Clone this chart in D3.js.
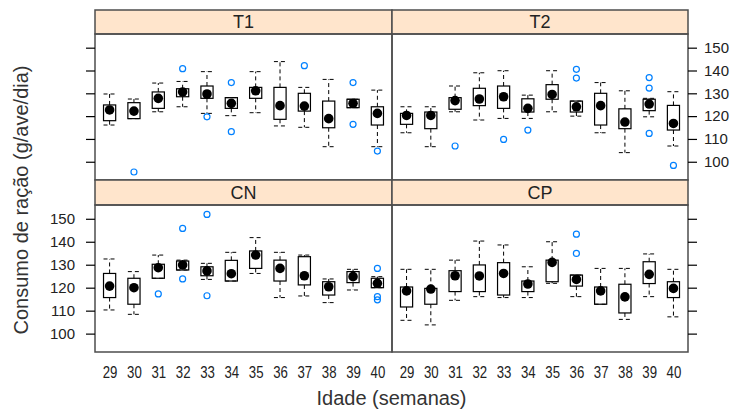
<!DOCTYPE html>
<html>
<head>
<meta charset="utf-8">
<script src="https://cdn.jsdelivr.net/npm/d3@7"></script>
<style>
  body { margin: 0; background: #fff; }
  svg { display: block; font-family: "Liberation Sans", Arial, sans-serif; }
</style>
</head>
<body>
<svg id="chart" width="732" height="416"></svg>
<script>
// Ages (weeks) on the x axis
const weeks = [29, 30, 31, 32, 33, 34, 35, 36, 37, 38, 39, 40];
const panelNames = ["T1", "T2", "CN", "CP"];
const yTicks = [100, 110, 120, 130, 140, 150];

// Box statistics per week: [lower whisker, Q1, median, Q3, upper whisker]
const statsT1 = [
  [116.1, 118.0, 122.7, 124.9, 129.7],
  [118.9, 118.9, 122.2, 125.9, 127.5],
  [121.9, 123.4, 127.8, 130.6, 134.5],
  [124.1, 128.5, 130.6, 132.0, 135.2],
  [121.2, 127.8, 129.7, 133.2, 139.5],
  [120.2, 123.4, 125.6, 128.1, 128.1],
  [121.5, 127.8, 131.1, 132.6, 139.5],
  [115.7, 118.6, 124.6, 132.6, 143.9],
  [115.1, 122.2, 124.4, 130.0, 132.6],
  [106.6, 114.9, 118.9, 126.6, 136.1],
  [123.7, 123.7, 125.6, 127.4, 127.4],
  [106.6, 116.1, 121.2, 124.1, 131.4]
];
const statsT2 = [
  [112.7, 116.4, 120.3, 121.2, 124.1],
  [106.6, 114.5, 120.3, 121.8, 124.1],
  [121.9, 123.0, 126.8, 128.1, 133.2],
  [118.3, 124.6, 127.5, 132.2, 139.0],
  [119.0, 123.4, 128.5, 133.2, 139.9],
  [119.0, 121.8, 123.4, 127.6, 129.2],
  [121.9, 127.4, 129.5, 133.8, 139.9],
  [120.0, 121.8, 124.1, 126.6, 126.6],
  [112.7, 116.1, 124.6, 130.0, 134.7],
  [104.0, 114.5, 117.4, 123.2, 131.1],
  [119.7, 122.4, 125.3, 127.4, 127.8],
  [106.9, 113.9, 116.8, 124.7, 130.7]
];
const statsCN = [
  [110.3, 115.7, 120.7, 126.2, 132.5],
  [108.4, 112.8, 120.0, 124.1, 127.0],
  [124.1, 124.1, 128.7, 130.2, 134.2],
  [127.7, 127.7, 129.9, 131.6, 132.0],
  [123.6, 125.2, 127.3, 129.1, 130.6],
  [122.9, 122.9, 126.1, 131.9, 135.4],
  [126.2, 128.4, 134.2, 136.0, 141.8],
  [115.7, 122.9, 128.4, 132.0, 135.4],
  [116.4, 121.2, 125.2, 133.5, 134.2],
  [113.5, 116.8, 120.4, 122.6, 123.8],
  [119.0, 122.2, 124.8, 127.0, 128.0],
  [120.0, 120.0, 121.9, 124.1, 124.8]
];
const statsCP = [
  [105.8, 111.6, 118.6, 120.3, 128.0],
  [103.8, 112.8, 119.4, 119.7, 128.0],
  [114.5, 118.3, 125.2, 127.4, 132.0],
  [116.1, 118.3, 125.1, 129.9, 140.3],
  [115.7, 116.8, 126.2, 130.9, 138.6],
  [115.7, 118.3, 121.6, 122.9, 129.1],
  [121.9, 122.6, 131.0, 132.0, 140.0],
  [116.1, 120.7, 123.6, 125.5, 125.5],
  [112.8, 112.8, 118.6, 120.3, 128.4],
  [106.2, 109.0, 116.0, 121.5, 128.4],
  [116.1, 121.8, 125.8, 131.3, 134.7],
  [107.3, 115.7, 119.7, 122.6, 128.0]
];

// Outlying observations: [week, value]
const outT1 = [[30, 95.5], [32, 140.8], [33, 119.7], [34, 134.7], [34, 113.2],
               [37, 142.1], [39, 134.7], [39, 116.4], [40, 104.7]];
const outT2 = [[31, 106.9], [33, 109.8], [34, 113.9], [36, 140.5], [36, 136.7],
               [39, 136.9], [39, 132.3], [39, 112.4], [40, 98.4]];
const outCN = [[31, 117.3], [32, 145.8], [32, 123.8], [33, 151.9], [33, 116.5],
               [40, 128.4], [40, 116.1], [40, 114.7]];
const outCP = [[36, 143.3], [36, 134.9]];

const statsByPanel = { T1: statsT1, T2: statsT2, CN: statsCN, CP: statsCP };
const outByPanel = { T1: outT1, T2: outT2, CN: outCN, CP: outCP };

// Layout of the 2 x 2 lattice
const colX = [95, 392, 688];
const rows = [
  { stripTop: 10, plotTop: 34, plotBottom: 180 },
  { stripTop: 180, plotTop: 205, plotBottom: 352 }
];
const yDomain = [92, 156];

const svg = d3.select("#chart");
const frameColor = "#4d4d4d";

panelNames.forEach((name, idx) => {
  const col = idx % 2;
  const row = idx < 2 ? 0 : 1;
  const x0 = colX[col], x1 = colX[col + 1];
  const r = rows[row];

  const x = d3.scalePoint().domain(weeks).range([x0, x1]).padding(0.6);
  const y = d3.scaleLinear().domain(yDomain).range([r.plotBottom, r.plotTop]);
  const boxW = x.step() * 0.5;

  // strip
  svg.append("rect")
    .attr("x", x0).attr("y", r.stripTop)
    .attr("width", x1 - x0).attr("height", r.plotTop - r.stripTop)
    .attr("fill", "#ffe5cc").attr("stroke", frameColor).attr("stroke-width", 1.5);
  svg.append("text")
    .attr("x", (x0 + x1) / 2).attr("y", r.stripTop + (r.plotTop - r.stripTop) / 2)
    .attr("dy", "0.36em").attr("text-anchor", "middle")
    .attr("font-size", 18).attr("fill", "#222")
    .text(name);

  const g = svg.append("g");
  const stats = statsByPanel[name];

  weeks.forEach((wk, i) => {
    const [lo, q1, med, q3, hi] = stats[i];
    const cx = x(wk);
    const dash = "4,3";
    // whiskers
    g.append("line").attr("x1", cx).attr("x2", cx)
      .attr("y1", y(q3)).attr("y2", y(hi))
      .attr("stroke", "#000").attr("stroke-dasharray", dash);
    g.append("line").attr("x1", cx).attr("x2", cx)
      .attr("y1", y(q1)).attr("y2", y(lo))
      .attr("stroke", "#000").attr("stroke-dasharray", dash);
    // caps
    [lo, hi].forEach(v => {
      g.append("line")
        .attr("x1", cx - boxW / 2).attr("x2", cx + boxW / 2)
        .attr("y1", y(v)).attr("y2", y(v))
        .attr("stroke", "#000").attr("stroke-dasharray", dash);
    });
    // box
    g.append("rect")
      .attr("x", cx - boxW / 2).attr("y", y(q3))
      .attr("width", boxW).attr("height", y(q1) - y(q3))
      .attr("fill", "none").attr("stroke", "#000").attr("stroke-width", 1.2);
    // median dot
    g.append("circle").attr("cx", cx).attr("cy", y(med)).attr("r", 4.8)
      .attr("fill", "#000");
  });

  // outliers
  g.selectAll("circle.out").data(outByPanel[name]).join("circle")
    .attr("class", "out")
    .attr("cx", d => x(d[0])).attr("cy", d => y(d[1])).attr("r", 3)
    .attr("fill", "none").attr("stroke", "#0080ff").attr("stroke-width", 1.2);

  // panel frame
  svg.append("rect")
    .attr("x", x0).attr("y", r.plotTop)
    .attr("width", x1 - x0).attr("height", r.plotBottom - r.plotTop)
    .attr("fill", "none").attr("stroke", frameColor).attr("stroke-width", 1.5);

  // y axes alternate: left column on the left, right column on the right
  const labelled = (col === 0 && row === 1) || (col === 1 && row === 0);
  const axis = col === 0
    ? d3.axisLeft(y).tickValues(yTicks).tickSize(9).tickPadding(11)
    : d3.axisRight(y).tickValues(yTicks).tickSize(9).tickPadding(7);
  if (!labelled) axis.tickFormat("");
  const ag = svg.append("g")
    .attr("transform", `translate(${col === 0 ? x0 : x1},0)`)
    .call(axis);
  ag.select(".domain").remove();
  ag.selectAll("line").attr("stroke", "#000").attr("stroke-width", 1.2);
  ag.selectAll("text").attr("font-size", 15).attr("fill", "#222")
    .attr("font-family", "Liberation Sans, Arial, sans-serif");

  // x labels along the bottom row
  if (row === 1) {
    const xg = svg.append("g")
      .attr("transform", `translate(0,${r.plotBottom})`)
      .call(d3.axisBottom(x).tickSize(0).tickPadding(14));
    xg.select(".domain").remove();
    xg.selectAll("text").attr("font-size", 16.5).attr("fill", "#222")
      .attr("font-family", "Liberation Sans, Arial, sans-serif")
      .attr("transform", "scale(0.8,1)");
  }
});

// axis titles
svg.append("text")
  .attr("x", (colX[0] + colX[2]) / 2).attr("y", 405)
  .attr("text-anchor", "middle").attr("font-size", 20).attr("fill", "#333")
  .text("Idade (semanas)");
svg.append("text")
  .attr("transform", "translate(28,200) rotate(-90)")
  .attr("text-anchor", "middle").attr("font-size", 20).attr("fill", "#333")
  .text("Consumo de ração (g/ave/dia)");
</script>
</body>
</html>
